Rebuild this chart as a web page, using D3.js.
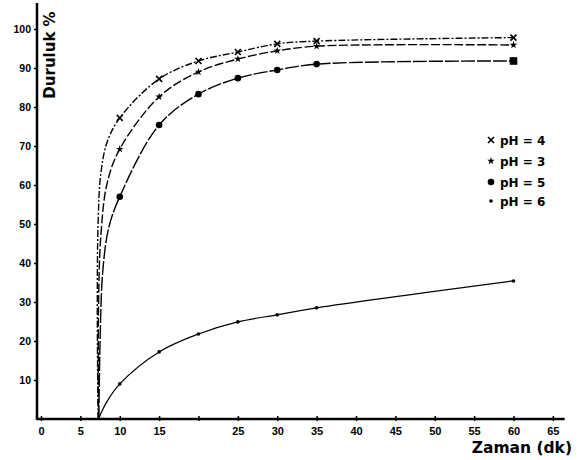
<!DOCTYPE html>
<html>
<head>
<meta charset="utf-8">
<script src="https://cdn.jsdelivr.net/npm/d3@7"></script>
<style>
  html, body { margin: 0; padding: 0; background: #fff; }
  svg { display: block; }
</style>
</head>
<body>
<svg id="chart" width="582" height="460"></svg>
<script>
// ---- data ----
const times = [10, 15, 20, 25, 30, 35, 60];
const pH4 = [77.2, 87.2, 91.8, 94.1, 96.2, 96.9, 97.8];
const pH3 = [69.2, 82.6, 89.0, 92.3, 94.4, 95.6, 95.9];
const pH5 = [57.0, 75.4, 83.3, 87.4, 89.5, 91.0, 91.8];
const pH6 = [9.0, 17.2, 21.8, 24.9, 26.7, 28.5, 35.4];
// traced steep rise of each curve before the first marker [time, value]
const pH4Rise = [[7.25, 0], [7.15, 30], [7.25, 50], [7.6, 63], [8.4, 71]];
const pH3Rise = [[7.3, 0], [7.3, 28], [7.6, 47], [8.4, 60.5]];
const pH5Rise = [[7.35, 0], [7.5, 20], [7.85, 38], [8.6, 49]];
const pH6Rise = [[7.3, 0], [8.3, 4.2]];
const xTicks = [0, 5, 10, 15, 20, 25, 30, 35, 40, 45, 50, 55, 60, 65];
const xTickLabels = ["0", "5", "10", "15", "", "25", "30", "35", "40", "45", "50", "55", "60", "65"];
const yTicks = [10, 20, 30, 40, 50, 60, 70, 80, 90, 100];
const legendLabels = ["pH = 4", "pH = 3", "pH = 5", "pH = 6"];

const svg = d3.select("#chart");
const x = d3.scaleLinear().domain([0, 60]).range([41, 513.5]);
const y = d3.scaleLinear().domain([0, 100]).range([419, 29]);

// axes
const xAxis = d3.axisBottom(x).tickValues(xTicks)
  .tickFormat((d, i) => xTickLabels[i]).tickSize(3).tickPadding(5);
const gx = svg.append("g").attr("transform", `translate(0,${y(0)})`).call(xAxis);
gx.select(".domain").remove();
gx.selectAll(".tick line").attr("y1", -3).attr("y2", 2).attr("stroke", "#000").attr("stroke-width", 1.5);
gx.selectAll(".tick text").attr("font-family", "Liberation Sans, Arial, sans-serif")
  .attr("font-size", 11).attr("font-weight", "bold").attr("fill", "#000");

const yAxis = d3.axisLeft(y).tickValues(yTicks).tickSize(3).tickPadding(3);
const gy = svg.append("g").attr("transform", `translate(37,0)`).call(yAxis);
gy.select(".domain").remove();
gy.selectAll(".tick line").attr("stroke", "#000").attr("stroke-width", 1.5);
gy.selectAll(".tick text").attr("font-family", "Liberation Sans, Arial, sans-serif")
  .attr("font-size", 10.5).attr("font-weight", "bold").attr("fill", "#000");

// axis lines
svg.append("line").attr("x1", 37).attr("x2", x(66.5)).attr("y1", y(0)).attr("y2", y(0))
  .attr("stroke", "#000").attr("stroke-width", 2.5);
svg.append("line").attr("x1", 37).attr("x2", 37).attr("y1", 3).attr("y2", y(0) + 1)
  .attr("stroke", "#000").attr("stroke-width", 2.5);

// titles
svg.append("text").attr("transform", "translate(55,55) rotate(-90)")
  .attr("text-anchor", "middle").attr("font-family", "DejaVu Sans, sans-serif")
  .attr("font-size", 15).attr("font-weight", "bold").text("Duruluk %");
svg.append("text").attr("x", 572).attr("y", 453).attr("text-anchor", "end")
  .attr("font-family", "DejaVu Sans, sans-serif").attr("font-size", 15.5)
  .attr("font-weight", "bold").text("Zaman (dk)");

// curves
const series = [
  { vals: pH4, rise: pH4Rise, dash: "7,2,2,2", marker: "cross" },
  { vals: pH3, rise: pH3Rise, dash: "9,2.5", marker: "star" },
  { vals: pH5, rise: pH5Rise, dash: "14,2", marker: "dot" },
  { vals: pH6, rise: pH6Rise, dash: null, marker: "small" }
];
const line = d3.line().x(d => x(d[0])).y(d => y(d[1])).curve(d3.curveCatmullRom.alpha(0.5));

function drawMarker(g, type, cx, cy, big) {
  if (type === "cross") {
    const s = 3;
    g.append("path").attr("d", `M${cx - s},${cy - s}L${cx + s},${cy + s}M${cx - s},${cy + s}L${cx + s},${cy - s}`)
      .attr("stroke", "#000").attr("stroke-width", 1.6);
  } else if (type === "star") {
    g.append("path").attr("d", d3.symbol(d3.symbolStar, 18)()).attr("transform", `translate(${cx},${cy})`).attr("fill", "#000");
  } else if (type === "dot") {
    if (big) g.append("rect").attr("x", cx - 3.8).attr("y", cy - 3.8).attr("width", 7.6).attr("height", 7.6).attr("fill", "#000");
    else g.append("circle").attr("cx", cx).attr("cy", cy).attr("r", 3.3).attr("fill", "#000");
  } else {
    g.append("circle").attr("cx", cx).attr("cy", cy).attr("r", 1.8).attr("fill", "#000");
  }
}

series.forEach(s => {
  const pts = s.rise.concat(times.map((t, i) => [t, s.vals[i]]));
  const p = svg.append("path").attr("d", line(pts)).attr("fill", "none")
    .attr("stroke", "#000").attr("stroke-width", s.marker === "small" ? 1.2 : 1.4);
  if (s.dash) p.attr("stroke-dasharray", s.dash);
  const g = svg.append("g");
  times.forEach((t, i) => drawMarker(g, s.marker, x(t), y(s.vals[i]), s.marker === "dot" && i === times.length - 1));
});

// legend
const legendY = [140, 161, 182, 201];
const lg = svg.append("g");
legendLabels.forEach((lab, i) => {
  drawMarker(lg, series[i].marker, 491, legendY[i], false);
  lg.append("text").attr("x", 500).attr("y", legendY[i] + 4.5)
    .attr("font-family", "DejaVu Sans, sans-serif").attr("font-size", 12)
    .attr("font-weight", "bold").text(lab);
});
</script>
</body>
</html>
